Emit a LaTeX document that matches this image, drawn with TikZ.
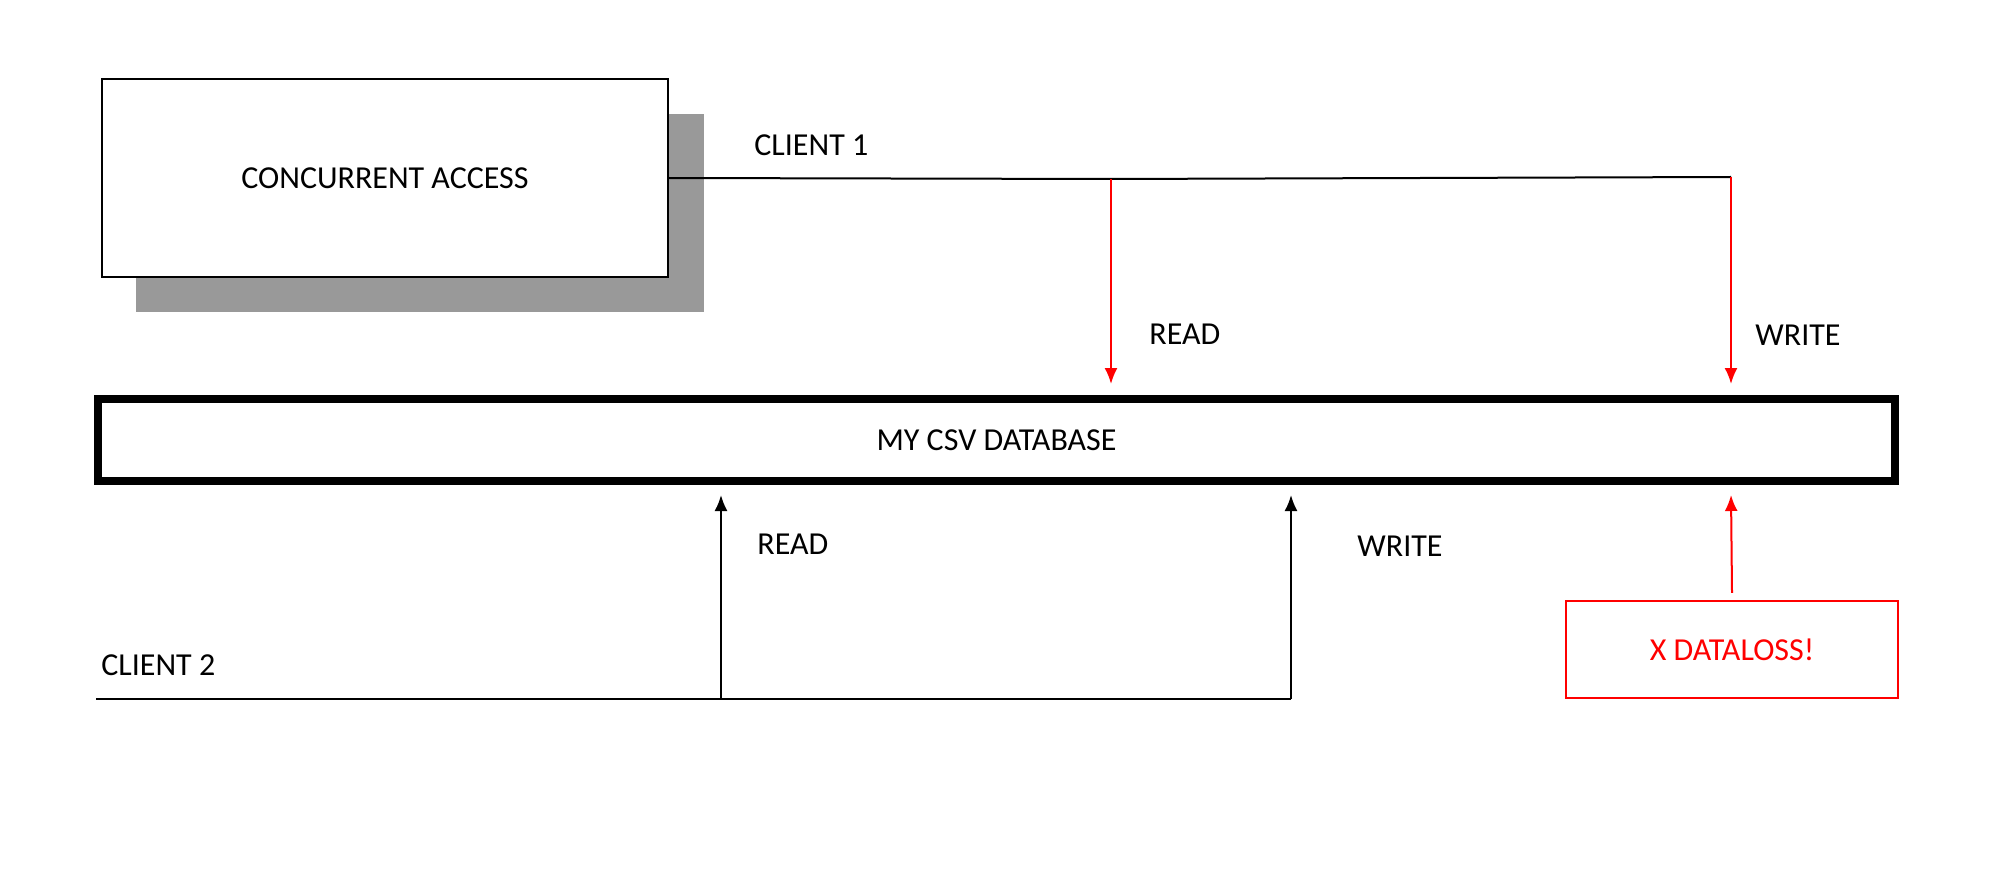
\documentclass[tikz,border=0pt]{standalone}
\usepackage{fontspec}
\setmainfont{Carlito}
\usetikzlibrary{arrows.meta}
\definecolor{shadowgray}{HTML}{999999}
\definecolor{alarm}{HTML}{FF0000}
\begin{document}
\begin{tikzpicture}[x=0.5pt,y=-0.5pt,
  txt/.style={font=\fontsize{16}{19}\selectfont, inner sep=0pt},
  conn/.style={line width=1pt},
  redarrow/.style={line width=1pt, draw=alarm, -{Latex[length=8pt,width=6.5pt]}},
  blkarrow/.style={line width=1pt, draw=black, -{Latex[length=8pt,width=6.5pt]}}]
\useasboundingbox[fill=white] (0,0) rectangle (2000,871);
% shadow and concurrent box
\fill[shadowgray] (136,114) rectangle (704,312);
\node[draw, line width=1pt, fill=white, minimum width=283pt, minimum height=99pt, inner sep=0pt, outer sep=0pt, txt] (ca) at (385,178) {CONCURRENT ACCESS};
% database
\node[draw, line width=4pt, minimum width=898.5pt, minimum height=41pt, inner sep=0pt, outer sep=0pt, txt] (db) at (996.5,440) {MY CSV DATABASE};
% dataloss box
\node[draw=alarm, line width=1.2pt, minimum width=166pt, minimum height=48.5pt, inner sep=0pt, txt, text=alarm] (dl) at (1732,649.5) {X DATALOSS!};
% client 1
\coordinate (r1) at (1111,179);
\coordinate (w1) at (1731,177);
\draw[conn] (ca.east) -- (r1) -- (w1);
\node[txt, anchor=base west] (c1lbl) at (754,156) {CLIENT 1};
\draw[redarrow] (r1) -- (1111,384);
\draw[redarrow] (w1) -- (1731,384);
\node[txt, anchor=base west] (rd1) at (1149,344) {READ};
\node[txt, anchor=base west] (wr1) at (1755,345) {WRITE};
% client 2
\coordinate (c2) at (96,699);
\coordinate (r2) at (721,699);
\coordinate (w2) at (1291,699);
\draw[conn] (c2) -- (r2) -- (w2);
\node[txt, anchor=base west] (c2lbl) at (101,675) {CLIENT 2};
\draw[blkarrow] (r2) -- (721,495);
\draw[blkarrow] (w2) -- (1291,495);
\node[txt, anchor=base west] (rd2) at (757,554) {READ};
\node[txt, anchor=base west] (wr2) at (1357,556) {WRITE};
% dataloss arrow
\draw[redarrow] ([yshift=3.5pt]dl.north) -- (1731,495);
\end{tikzpicture}
\end{document}
